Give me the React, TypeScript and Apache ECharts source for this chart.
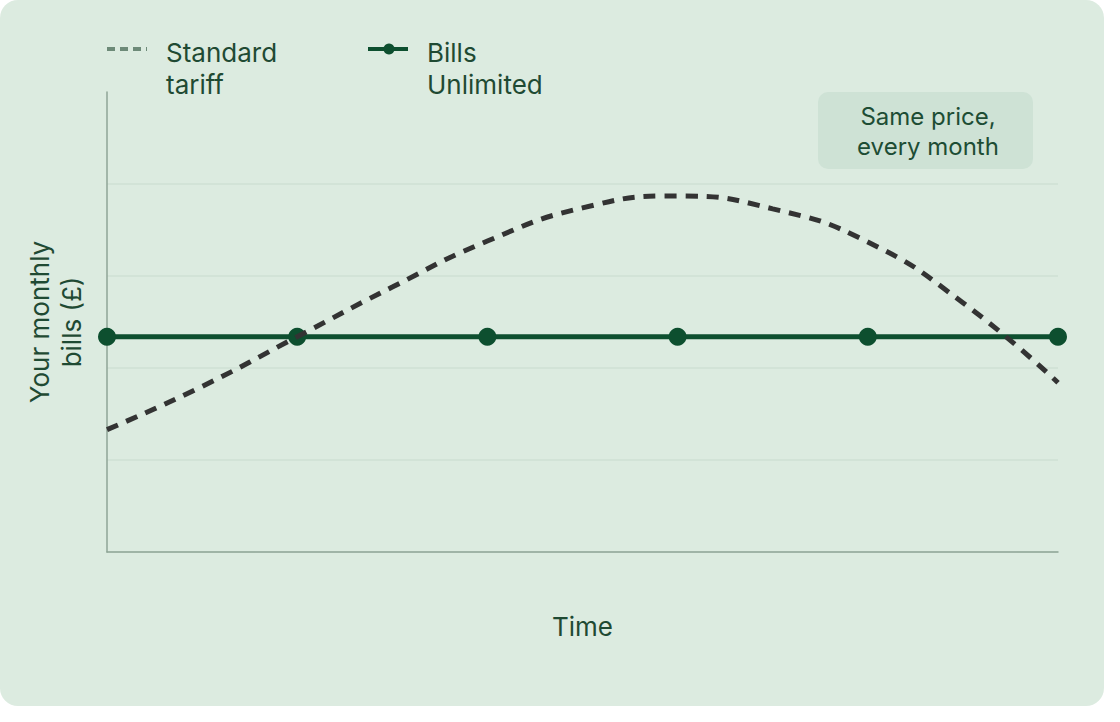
import { useEffect, useRef } from 'react'
import * as echarts from 'echarts'

// positions along the time axis (months, roughly)
const timePoints = [0, 0.5, 1, 1.5, 2, 2.5, 3, 3.5, 4, 4.5, 5]
// standard tariff
const standardTariff = [1.33, 1.8, 2.34, 2.88, 3.38, 3.74, 3.87, 3.73, 3.37, 2.71, 1.84]
// bills unlimited, flat price with a marker each step
const unlimitedPoints = [0, 1, 2, 3, 4, 5]
const unlimitedPrice = [2.34, 2.34, 2.34, 2.34, 2.34, 2.34]

const legendNames = ['Standard\ntariff', 'Bills\nUnlimited']
const noteText = 'Same price,\nevery month'

const TEXT = '#1f4a33'
const GREEN = '#0d4f2f'
const DASH = '#333333'
const AXIS = '#8fa597'
const GRID = '#cfe1d5'

export default function App() {
  const chartRef = useRef<HTMLDivElement>(null)

  useEffect(() => {
    if (!chartRef.current) return
    const chart = echarts.init(chartRef.current, null, { renderer: 'svg' })

    const option = {
      animation: false,
      backgroundColor: 'transparent',
      textStyle: { fontFamily: 'Inter' },
      grid: { left: 107, right: 46, top: 92, bottom: 154 },
      xAxis: {
        type: 'value',
        min: 0,
        max: 5,
        interval: 1,
        name: 'Time',
        nameLocation: 'middle',
        nameGap: 61,
        nameTextStyle: { color: TEXT, fontSize: 26, fontFamily: 'Inter' },
        axisLine: { lineStyle: { color: AXIS, width: 1.5 } },
        axisTick: { show: false },
        axisLabel: { show: false },
        splitLine: { show: false },
      },
      yAxis: {
        type: 'value',
        min: 0,
        max: 5,
        interval: 1,
        name: 'Your monthly\nbills (£)',
        nameLocation: 'middle',
        nameGap: 20,
        nameTextStyle: { color: TEXT, fontSize: 26, lineHeight: 32, fontFamily: 'Inter' },
        axisLine: { show: true, lineStyle: { color: AXIS, width: 1.5 } },
        axisTick: { show: false },
        axisLabel: { show: false },
        splitLine: {
          show: true,
          lineStyle: { color: [GRID, GRID, GRID, GRID, GRID, 'transparent'], width: 1.5 },
        },
      },
      series: [
        {
          name: legendNames[1],
          type: 'line',
          data: unlimitedPoints.map((x, i) => [x, unlimitedPrice[i]]),
          symbol: 'circle',
          symbolSize: 18,
          lineStyle: { color: GREEN, width: 5 },
          itemStyle: { color: GREEN },
          z: 2,
        },
        {
          name: legendNames[0],
          type: 'line',
          data: timePoints.map((x, i) => [x, standardTariff[i]]),
          smooth: true,
          showSymbol: false,
          lineStyle: { color: DASH, width: 5, type: [12, 9] },
          z: 3,
        },
      ],
      graphic: [
        // legend: standard tariff
        {
          type: 'line',
          shape: { x1: 107, y1: 49, x2: 147, y2: 49 },
          style: { stroke: '#6d8a78', lineWidth: 4, lineDash: [8, 5] },
        },
        {
          type: 'text',
          x: 166,
          y: 36,
          style: { text: legendNames[0], fill: TEXT, fontSize: 26, lineHeight: 32, fontFamily: 'Inter' },
        },
        // legend: bills unlimited
        {
          type: 'line',
          shape: { x1: 368, y1: 49, x2: 408, y2: 49 },
          style: { stroke: GREEN, lineWidth: 4 },
        },
        {
          type: 'circle',
          shape: { cx: 389, cy: 49, r: 5.5 },
          style: { fill: GREEN },
        },
        {
          type: 'text',
          x: 427,
          y: 36,
          style: { text: legendNames[1], fill: TEXT, fontSize: 26, lineHeight: 32, fontFamily: 'Inter' },
        },
        // note box
        {
          type: 'rect',
          shape: { x: 818, y: 92, width: 215, height: 77, r: 10 },
          style: { fill: '#cee2d5' },
        },
        {
          type: 'text',
          x: 928,
          y: 131,
          style: {
            text: noteText,
            fill: '#1d4d34',
            fontSize: 24,
            lineHeight: 30,
            align: 'center',
            verticalAlign: 'middle',
            fontFamily: 'Inter',
          },
        },
      ],
    }

    chart.setOption(option)
    return () => chart.dispose()
  }, [])

  return (
    <div
      style={{
        position: 'absolute',
        left: 0,
        top: 0,
        width: 1104,
        height: 706,
        background: '#dcebe0',
        borderRadius: 18,
        overflow: 'hidden',
      }}
    >
      <div ref={chartRef} style={{ width: 1104, height: 706 }} />
    </div>
  )
}
